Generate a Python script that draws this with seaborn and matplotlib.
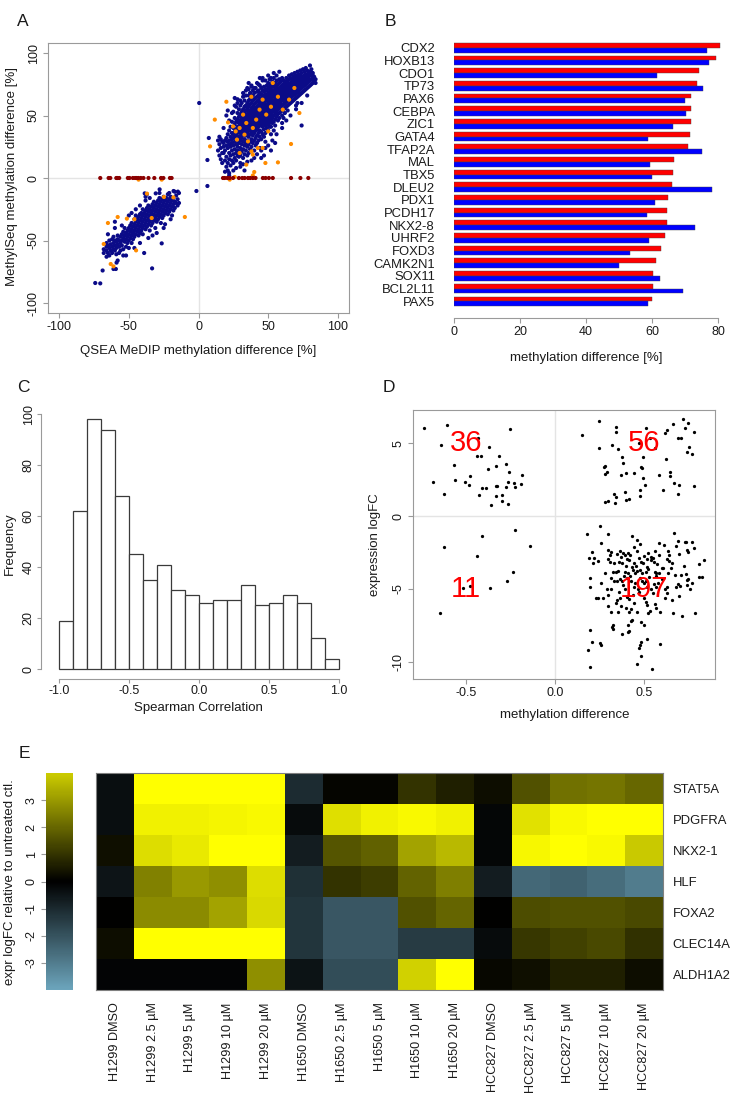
import numpy as np
import pandas as pd
import matplotlib
matplotlib.use("Agg")
import matplotlib.pyplot as plt
import seaborn as sns
from matplotlib.colors import LinearSegmentedColormap

sns.set_style("white")
plt.rcParams['font.family'] = ['Liberation Sans', 'DejaVu Sans']
plt.rcParams['axes.unicode_minus'] = False

# ---------------- Panel A data (QSEA vs MethylSeq methylation difference) ----------------
# upper-right cloud: x value -> list of y values
a_up_x = [14, 15, 16, 17, 18, 19, 20, 21, 22, 23, 24, 25, 26, 27, 28, 29, 30, 31, 32, 33, 34, 35,
          36, 37, 38, 39, 40, 41, 42, 43, 44, 45, 46, 47, 48, 49, 50, 51, 52, 53, 54, 55, 56, 57,
          58, 59, 60, 61, 62, 63, 64, 65, 66, 67, 68, 69, 70, 71, 72, 73, 74, 75, 76, 77, 78, 79,
          80, 81, 82, 83, 84]
a_up_y = [
    [30, 22], [27, 18, 33], [24, 31, 15], [29, 20, 12], [28, 25, 20], [30, 14, 22], [32, 26, 17, 9],
    [35, 24, 12, 29, 6, 54], [38, 30, 20, 15, 27, 4], [33, 25, 18, 41, 10], [36, 28, 22, 14, 45, 31],
    [40, 32, 26, 19, 12, 53, 35], [43, 37, 29, 23, 16, 48, 33], [45, 39, 34, 27, 20, 14, 57, 30],
    [47, 41, 36, 31, 25, 18, 63, 52, 22], [49, 44, 38, 33, 28, 21, 55, 40, 17],
    [51, 46, 41, 36, 30, 24, 18, 58, 43, 33, 12], [53, 48, 43, 38, 32, 27, 21, 60, 45, 35],
    [55, 50, 45, 40, 35, 29, 23, 16, 65, 47, 37], [57, 52, 47, 42, 37, 31, 26, 19, 62, 44, 34, 50],
    [58, 54, 49, 44, 39, 34, 28, 22, 70, 46, 36, 41], [60, 56, 51, 46, 41, 36, 30, 25, 18, 72, 48, 38, 54],
    [62, 57, 53, 48, 43, 38, 33, 27, 20, 66, 50, 40, 45], [63, 59, 54, 50, 45, 40, 35, 29, 23, 68, 47, 42, 52],
    [65, 60, 56, 51, 47, 42, 37, 31, 25, 74, 49, 44, 54, 39], [66, 62, 57, 53, 48, 44, 39, 34, 28, 70, 51, 46, 36],
    [68, 63, 59, 54, 50, 45, 41, 36, 30, 22, 56, 48, 43, 38], [64, 60, 56, 51, 47, 42, 38, 32, 26, 72, 53, 45, 40],
    [69, 65, 61, 57, 52, 48, 44, 39, 34, 28, 55, 50, 46], [70, 66, 62, 58, 54, 50, 45, 41, 36, 30, 75, 56, 47],
    [68, 64, 60, 55, 51, 47, 43, 38, 33, 24, 58, 49, 44], [72, 67, 63, 59, 55, 51, 47, 42, 37, 31, 61, 53, 45],
    [70, 66, 62, 58, 54, 50, 46, 41, 35, 78, 56, 48, 43], [73, 69, 65, 61, 57, 53, 49, 44, 39, 33, 59, 51, 47],
    [71, 67, 63, 59, 55, 51, 47, 42, 36, 62, 54, 45, 29], [74, 70, 66, 62, 58, 54, 50, 45, 40, 64, 56, 48, 43],
    [76, 72, 68, 64, 60, 56, 52, 48, 43, 38, 66, 58, 50, 46], [73, 69, 65, 61, 57, 53, 49, 44, 79, 63, 55, 47, 41],
    [75, 71, 67, 63, 59, 55, 51, 46, 41, 68, 60, 53, 35], [77, 73, 69, 65, 61, 57, 53, 48, 44, 62, 58, 50],
    [74, 70, 66, 62, 58, 54, 50, 45, 80, 68, 60, 56, 38], [76, 72, 68, 64, 60, 56, 52, 47, 42, 70, 62, 58],
    [78, 74, 70, 66, 62, 58, 54, 49, 72, 64, 60, 52], [75, 71, 67, 63, 59, 55, 51, 46, 69, 65, 61, 57],
    [79, 76, 72, 68, 64, 60, 56, 52, 48, 70, 66, 62], [77, 73, 69, 65, 61, 57, 53, 71, 67, 63, 59],
    [80, 74, 70, 66, 62, 58, 54, 50, 72, 68, 64, 44], [78, 75, 71, 67, 63, 59, 55, 73, 69, 65],
    [76, 72, 68, 64, 60, 56, 52, 74, 70, 66, 62], [80, 77, 73, 69, 65, 61, 57, 75, 71, 67],
    [78, 74, 70, 66, 62, 58, 54, 76, 72, 68, 64], [82, 79, 75, 71, 67, 63, 59, 73, 69, 65],
    [80, 76, 72, 68, 64, 60, 74, 70, 66], [83, 77, 73, 69, 65, 61, 75, 71, 67, 79],
    [81, 78, 74, 70, 66, 62, 76, 72, 68], [84, 79, 75, 71, 67, 63, 77, 73, 69],
    [82, 80, 76, 72, 68, 64, 78, 74, 70, 58], [85, 81, 77, 73, 69, 65, 79, 75, 71],
    [83, 78, 74, 70, 66, 80, 76, 72, 68], [86, 82, 79, 75, 71, 67, 77, 73], [84, 80, 76, 72, 68, 78, 74, 42],
    [87, 81, 77, 73, 69, 79, 75], [85, 82, 78, 74, 70, 80, 76], [88, 83, 79, 75, 71, 81, 77],
    [86, 80, 76, 72, 82, 78], [84, 81, 77, 73, 79], [90, 85, 82, 78, 74], [87, 83, 79, 75],
    [84, 80, 76, 82], [81, 77, 78], [79, 76]]

# lower-left cloud
a_lo_x = [-68, -66, -65, -64, -63, -62, -61, -60, -59, -58, -57, -56, -55, -54, -53, -52, -51, -50,
          -49, -48, -47, -46, -45, -44, -43, -42, -41, -40, -39, -38, -37, -36, -35, -34, -33, -32,
          -31, -30, -29, -28, -27, -26, -25, -24, -23, -22, -21, -20, -19, -18, -17, -16, -15, -14]
a_lo_y = [
    [-57, -60], [-55, -58, -52], [-60, -54], [-56, -50, -62], [-53, -58], [-55, -49, -60],
    [-52, -57, -47], [-54, -58, -50, -40], [-51, -56, -61], [-49, -53, -46], [-55, -50, -60],
    [-47, -52, -58], [-45, -50, -54], [-48, -43, -57, -62], [-46, -51, -40], [-44, -49, -55],
    [-42, -47, -52], [-45, -40, -50, -56], [-43, -38, -48], [-41, -46, -36, -52], [-39, -44, -49],
    [-37, -42, -33, -47], [-40, -35, -45, -30], [-38, -43, -33], [-36, -41, -31, -46],
    [-34, -39, -29, -44], [-32, -37, -42, -28], [-35, -30, -40, -25, -45], [-33, -28, -38, -60],
    [-31, -36, -26, -41, -15], [-29, -34, -24, -39, -13], [-32, -27, -37, -22], [-30, -25, -35, -42],
    [-28, -33, -23, -38], [-26, -31, -21, -36, -46], [-29, -24, -34, -19], [-27, -22, -32, -40],
    [-25, -20, -30, -35], [-23, -28, -18, -33], [-26, -21, -31, -16], [-24, -19, -29, -36],
    [-22, -27, -17, -32], [-20, -25, -30, -15], [-23, -18, -28, -37], [-21, -26, -16],
    [-19, -24, -29], [-17, -22, -12, -27], [-20, -25, -15], [-18, -23, -30], [-16, -21, -26],
    [-19, -24, -11], [-14, -20], [-22, -17], [-12, -20]]

# isolated navy points (outliers and the diffuse edges of both clouds)
a_out_x = [-74.1, -70.5, -68.8, -61.0, -59.3, -58.8, -33.3, -26.4, -1.5, 6.4, -38.6, -30.7, -27.9,
           -17.9, -14.8, 7.4, 6.4, 0.5,
           20, 22, 24, 26, 28, 30, 32, 34, 36, 38, 40, 42, 44, 46, 48, 50, 52, 54, 56, 58,
           22, 25, 27, 30, 32, 35, 38, 40, 42, 45, 48, 50, 53, 56, 60, 63, 66, 70, 74, 78,
           26, 36, 44, 18, 19, 33, 45, 52, 61, 71, 55, 47,
           -60, -55, -50, -45, -42, -38, -65, -66, -58, -52, -46, -42, -36, -30, -25, -20, -48, -35,
           -28, -22]
a_out_y = [-84.0, -84.3, -74.0, -72.8, -72.8, -67.7, -72.3, -52.3, -10.4, -6.4, -12.3, -12.3, -9.1,
           -10.4, -10.9, 32.0, 14.4, 60.0,
           50, 46, 52, 58, 60, 62, 68, 66, 71, 73, 72, 76, 74, 80, 78, 82, 80, 84, 82, 85,
           2, 6, 8, 9, 11, 13, 14, 16, 19, 22, 24, 26, 30, 35, 40, 46, 50, 55, 60, 66,
           64, 76, 80, 40, 5, 6, 16, 22, 48, 60, 28, 18,
           -35, -38, -30, -25, -22, -18, -45, -63, -66, -62, -56, -52, -48, -44, -40, -33, -28, -16,
           -12, -13]

# orange points
a_or_x = [11.7, 8.3, 20.0, 21.2, 26.7, 27.6, 29.5, 34.3, 33.0, 39.0, 41.4, 43.8, 46.0, 37.9, 48.6,
          52.0, 57.0, 60.5, 65.0, 68.8, 72.4, 66.4, 57.0, 48.0, 34.3, 39.0, 40.0, 39.0, 42.6, 35.5,
          29.5, 22.4, 26.0, 53.3, 46.0, 32.0, 38.0, 50.0, 24.8,
          -65.0, -58.0, -68.0, -44.8, -63.0, -61.0, -51.4, -37.0, -24.8, -9.8, -43.0, -26.4, -46.0,
          -33.6, -18.0]
a_or_y = [46.7, 25.3, 61.0, 44.5, 37.3, 30.7, 40.0, 44.0, 34.7, 40.0, 46.7, 54.7, 62.7, 65.0, 50.7,
          57.0, 65.0, 54.7, 62.7, 72.0, 52.0, 27.2, 12.5, 12.0, 10.7, 18.7, 4.8, 2.0, 24.0, 29.3,
          20.0, -1.3, 0.8, 76.0, 24.0, 50.7, 21.3, 37.3, 41.3,
          -36.0, -31.2, -52.8, -57.9, -68.8, -70.7, -32.5, -12.5, -15.2, -31.2, -1.3, -1.3, -33.0,
          -32.0, -15.5]

# dark red points (no MethylSeq difference)
a_zero_x = [-70.5, -64.5, -63.3, -59.0, -58.1, -56.9, -50.7, -49.5, -47.1, -45.5, -44.3, -43.1,
            -41.4, -39.5, -35.9, -31.7, -26.9, -25.2, -20.5, -19.3,
            17.6, 18.8, 20.7, 22.4, 24.8, 29.0, 31.4, 33.1, 35.5, 37.1, 39.0, 40.9, 46.2, 48.1,
            50.5, 53.3, 66.4, 73.1, 78.8]

# ---------------- Panel B data ----------------
genes_b = ["CDX2", "HOXB13", "CDO1", "TP73", "PAX6", "CEBPA", "ZIC1", "GATA4", "TFAP2A", "MAL",
           "TBX5", "DLEU2", "PDX1", "PCDH17", "NKX2-8", "UHRF2", "FOXD3", "CAMK2N1", "SOX11",
           "BCL2L11", "PAX5"]
red_vals = [80.5, 79.3, 74.2, 73.7, 71.9, 71.9, 71.7, 71.6, 70.8, 66.8, 66.2, 66.0, 64.7, 64.6,
            64.4, 64.0, 62.7, 61.3, 60.4, 60.2, 59.9]
blue_vals = [76.8, 77.4, 61.6, 75.3, 69.9, 70.4, 66.3, 58.9, 75.2, 59.5, 59.9, 78.1, 60.9, 58.5,
             73.0, 59.1, 53.3, 49.9, 62.5, 69.5, 58.9]

# ---------------- Panel C data ----------------
hist_edges = [-1.0, -0.9, -0.8, -0.7, -0.6, -0.5, -0.4, -0.3, -0.2, -0.1, 0.0, 0.1, 0.2, 0.3, 0.4,
              0.5, 0.6, 0.7, 0.8, 0.9, 1.0]
hist_counts = [19, 62, 98, 94, 68, 45, 35, 41, 31, 29, 26, 27, 27, 33, 25, 26, 29, 26, 12, 4]

# ---------------- Panel D data ----------------
d_ul = [(-0.737, 6.05), (-0.611, 6.3), (-0.252, 5.99), (-0.643, 4.9), (-0.434, 5.4), (-0.37, 4.77),
        (-0.437, 4.17), (-0.418, 4.15), (-0.316, 4.15), (-0.57, 3.51), (-0.333, 3.44), (-0.278, 3.6),
        (-0.378, 3.23), (-0.26, 3.03), (-0.479, 2.77), (-0.184, 2.82), (-0.686, 2.36), (-0.564, 2.49),
        (-0.508, 2.33), (-0.483, 2.15), (-0.263, 2.38), (-0.229, 2.31), (-0.192, 2.22), (-0.414, 1.95),
        (-0.387, 1.93), (-0.334, 2.1), (-0.327, 2.04), (-0.278, 1.99), (-0.226, 2.0), (-0.628, 1.49),
        (-0.43, 1.47), (-0.33, 1.36), (-0.299, 1.47), (-0.299, 1.03), (-0.361, 0.78), (-0.268, 0.81)]
d_ur = [(0.152, 5.57), (0.245, 6.51), (0.344, 6.15), (0.344, 5.82), (0.511, 6.03), (0.245, 4.72),
        (0.32, 4.91), (0.355, 4.59), (0.378, 4.06), (0.384, 3.65), (0.276, 3.39), (0.282, 3.46),
        (0.29, 3.03), (0.282, 2.92), (0.372, 2.82), (0.399, 2.96), (0.442, 2.96), (0.482, 3.41),
        (0.489, 3.32), (0.496, 4.1), (0.496, 2.61), (0.504, 2.15), (0.476, 1.81), (0.478, 1.37),
        (0.333, 1.51), (0.341, 1.33), (0.397, 1.1), (0.416, 1.21), (0.393, 1.65), (0.279, 0.94),
        (0.295, 1.05), (0.338, 0.87), (0.62, 5.69), (0.628, 5.94), (0.666, 6.35), (0.722, 6.7),
        (0.75, 6.44), (0.731, 6.05), (0.782, 5.78), (0.69, 5.37), (0.707, 5.37), (0.754, 4.77),
        (0.741, 4.4), (0.769, 4.27), (0.624, 3.92), (0.583, 2.84), (0.645, 3.03), (0.647, 2.73),
        (0.671, 2.25), (0.698, 2.13), (0.609, 1.83), (0.694, 1.51), (0.781, 2.06), (0.534, 5.37),
        (0.47, 5.0), (0.56, 4.7)]
d_ll = [(-0.626, -2.13), (-0.412, -1.38), (-0.226, -0.94), (-0.144, -2.02), (-0.438, -2.73),
        (-0.237, -3.83), (-0.272, -4.47), (-0.367, -4.91), (-0.477, -4.8), (-0.65, -6.66),
        (-0.52, -4.95)]
d_lr = [(0.252, -0.71), (0.179, -1.22), (0.295, -1.24), (0.431, -1.36), (0.668, -1.13), (0.462, -1.63),
        (0.259, -1.82), (0.587, -1.84), (0.613, -1.99), (0.694, -1.7), (0.735, -1.75), (0.772, -1.75),
        (0.683, -2.04), (0.444, -2.09), (0.299, -2.34), (0.314, -2.5), (0.205, -2.5), (0.363, -2.43),
        (0.384, -2.54), (0.395, -2.66), (0.412, -2.54), (0.459, -2.37), (0.502, -2.71), (0.524, -2.54),
        (0.54, -2.78), (0.562, -2.43), (0.587, -2.64), (0.634, -2.39), (0.743, -2.34), (0.748, -2.48),
        (0.188, -2.89), (0.243, -3.07), (0.211, -3.24), (0.299, -2.96), (0.31, -3.12), (0.361, -3.14),
        (0.374, -3.24), (0.403, -2.96), (0.414, -3.05), (0.446, -3.24), (0.457, -3.4), (0.482, -3.14),
        (0.493, -3.24), (0.516, -2.96), (0.538, -3.05), (0.555, -3.14), (0.572, -3.28), (0.628, -2.96),
        (0.64, -3.07), (0.809, -3.28), (0.84, -3.05), (0.726, -3.42), (0.602, -3.58), (0.325, -3.81),
        (0.341, -3.81), (0.352, -3.77), (0.393, -3.81), (0.41, -3.88), (0.438, -3.7), (0.459, -3.79),
        (0.478, -3.7), (0.513, -3.84), (0.525, -3.65), (0.562, -3.81), (0.583, -3.93), (0.634, -3.93),
        (0.651, -3.58), (0.675, -4.06), (0.711, -4.04), (0.735, -3.97), (0.812, -4.2), (0.829, -4.2),
        (0.197, -4.25), (0.316, -4.27), (0.331, -4.43), (0.35, -4.45), (0.365, -4.34), (0.378, -4.48),
        (0.406, -4.27), (0.425, -4.45), (0.478, -4.27), (0.49, -4.48), (0.511, -4.43), (0.743, -4.39),
        (0.748, -4.3), (0.692, -4.66), (0.702, -4.82), (0.741, -4.75), (0.197, -4.84), (0.316, -5.03),
        (0.382, -4.75), (0.395, -5.03), (0.446, -4.89), (0.465, -5.0), (0.557, -4.66), (0.566, -4.89),
        (0.62, -5.0), (0.628, -4.89), (0.628, -5.3), (0.23, -5.64), (0.271, -5.64), (0.299, -5.41),
        (0.348, -5.76), (0.363, -5.62), (0.403, -5.53), (0.414, -5.69), (0.446, -5.99), (0.297, -6.17),
        (0.37, -6.17), (0.519, -6.08), (0.562, -6.04), (0.566, -6.29), (0.314, -6.57), (0.355, -6.61),
        (0.416, -6.59), (0.427, -6.4), (0.525, -6.63), (0.536, -6.52), (0.59, -6.61), (0.662, -6.68),
        (0.715, -6.88), (0.79, -6.63), (0.426, -7.19), (0.434, -7.14), (0.483, -7.25), (0.5, -7.46),
        (0.324, -7.48), (0.408, -7.48), (0.328, -7.76), (0.322, -7.6), (0.408, -7.94), (0.417, -7.9),
        (0.374, -8.12), (0.197, -7.83), (0.519, -8.47), (0.483, -8.63), (0.478, -8.86), (0.473, -9.09),
        (0.59, -8.81), (0.252, -8.74), (0.258, -8.86), (0.205, -8.67), (0.184, -9.22), (0.485, -9.59),
        (0.461, -10.19), (0.197, -10.35), (0.547, -10.51),
        (0.42, -4.1), (0.45, -4.6), (0.47, -5.2), (0.52, -4.9), (0.55, -5.3), (0.58, -4.6), (0.44, -5.4),
        (0.5, -5.6), (0.53, -4.2), (0.6, -4.3), (0.36, -5.2), (0.39, -4.1), (0.43, -3.5), (0.47, -2.9),
        (0.52, -3.5), (0.57, -3.9), (0.61, -3.6), (0.66, -3.2), (0.7, -2.6), (0.68, -4.9), (0.77, -4.6),
        (0.78, -2.2), (0.73, -1.8), (0.64, -2.7), (0.35, -2.6), (0.33, -3.2), (0.28, -3.9), (0.26, -4.6),
        (0.24, -5.6), (0.22, -2.9), (0.29, -5.0), (0.34, -6.0), (0.4, -6.3), (0.46, -6.6), (0.51, -5.9),
        (0.54, -5.0), (0.57, -4.1), (0.49, -3.9), (0.4, -3.4), (0.37, -2.8), (0.31, -2.7), (0.62, -5.6),
        (0.66, -5.8), (0.7, -5.5), (0.76, -5.0), (0.55, -2.9), (0.48, -1.9), (0.42, -2.7), (0.5, -4.6),
        (0.45, -3.9)]
d_counts = ["36", "56", "11", "197"]
d_count_pos = [(-0.5, 5), (0.5, 5), (-0.5, -5), (0.5, -5)]

# ---------------- Panel E data ----------------
e_columns = ["H1299 DMSO", "H1299 2.5 µM", "H1299 5 µM", "H1299 10 µM", "H1299 20 µM",
             "H1650 DMSO", "H1650 2.5 µM", "H1650 5 µM", "H1650 10 µM", "H1650 20 µM",
             "HCC827 DMSO", "HCC827 2.5 µM", "HCC827 5 µM", "HCC827 10 µM", "HCC827 20 µM"]
e_genes = ["STAT5A", "PDGFRA", "NKX2-1", "HLF", "FOXA2", "CLEC14A", "ALDH1A2"]
stat5a = [-0.32, 5, 5, 5, 5, -1.02, 0.1, 0.1, 1.0, 0.59, 0.24, 1.6, 2.2, 2.27, 2.0]
pdgfra = [-0.32, 4.7, 4.7, 4.78, 4.86, -0.24, 4.35, 4.7, 4.86, 4.7, -0.15, 4.4, 4.86, 5, 5]
nkx2_1 = [0.29, 4.31, 4.55, 5, 5, -0.68, 1.65, 1.88, 3.18, 3.6, -0.15, 4.82, 5, 4.86, 3.92]
hlf = [-0.49, 2.5, 3.0, 2.78, 4.31, -1.17, 0.98, 1.2, 1.92, 2.47, -0.68, -2.52, -2.38, -2.62, -3.0]
foxa2 = [0.0, 2.7, 2.7, 3.2, 4.24, -1.26, -2.09, -2.09, 1.57, 1.96, 0.0, 1.49, 1.6, 1.6, 1.41]
clec14a = [0.27, 5, 5, 5, 5, -1.26, -2.09, -2.09, -1.41, -1.41, -0.24, 1.06, 1.25, 1.41, 0.94]
aldh1a2 = [-0.1, -0.1, -0.1, -0.1, 2.78, -0.44, -1.84, -1.84, 4.08, 5, 0.12, 0.31, 0.59, 0.59, 0.24]

# ======================================================================
W, H = 735, 1102
fig = plt.figure(figsize=(W / 100, H / 100), dpi=100)


def rect(l, t, r, b):
    return [l / W, 1 - b / H, (r - l) / W, (b - t) / H]


def ftext(x, y, s, **kw):
    fig.text(x / W, 1 - y / H, s, **kw)


GRAY = '#9a9a9a'
TXT = '#1a1a1a'
LAB = 9.5


def style_box(ax):
    for sp in ax.spines.values():
        sp.set_color(GRAY)
        sp.set_linewidth(0.8)
    ax.tick_params(direction='out', length=3.5, width=0.8, color=GRAY, labelsize=9,
                   labelcolor=TXT, pad=2.5, bottom=True, left=True)


def rotate_y(ax):
    for lbl in ax.get_yticklabels():
        lbl.set_rotation(90)
        lbl.set_va('center')


# ---------------- Panel A ----------------
ax_x, ax_y, grp = [], [], []
for xv, ys in zip(a_up_x, a_up_y):
    for yv in ys:
        ax_x.append(xv); ax_y.append(yv); grp.append('navy')
for xv, ys in zip(a_lo_x, a_lo_y):
    for yv in ys:
        ax_x.append(xv); ax_y.append(yv); grp.append('navy')
ax_x += a_out_x; ax_y += a_out_y; grp += ['navy'] * len(a_out_x)
ax_x += a_or_x; ax_y += a_or_y; grp += ['orange'] * len(a_or_x)
ax_x += a_zero_x; ax_y += [0] * len(a_zero_x); grp += ['darkred'] * len(a_zero_x)
dfA = pd.DataFrame({'qsea': ax_x, 'methylseq': ax_y, 'group': grp})

axA = fig.add_axes(rect(48, 43, 349, 313))
axA.axhline(0, color='#e4e4e4', lw=1.0, zorder=0)
axA.axvline(0, color='#e4e4e4', lw=1.0, zorder=0)
sns.scatterplot(data=dfA, x='qsea', y='methylseq', hue='group',
                palette={'navy': '#0b0b88', 'orange': '#ff8c00', 'darkred': '#8b0000'},
                s=9, linewidth=0, legend=False, ax=axA, zorder=2)
axA.set_xlim(-108, 108)
axA.set_ylim(-108, 108)
axA.set_xticks([-100, -50, 0, 50, 100])
axA.set_yticks([-100, -50, 0, 50, 100])
axA.set_xlabel('')
axA.set_ylabel('')
style_box(axA)
rotate_y(axA)
ftext(198, 351, 'QSEA MeDIP methylation difference [%]', ha='center', va='center', fontsize=LAB, color=TXT)
ftext(12, 177, 'MethylSeq methylation difference [%]', ha='center', va='center', fontsize=LAB,
      color=TXT, rotation=90)

# ---------------- Panel B ----------------
dfB = pd.DataFrame({'gene': genes_b * 2, 'value': red_vals + blue_vals,
                    'series': ['MethylSeq'] * len(genes_b) + ['MeDIP'] * len(genes_b)})
axB = fig.add_axes(rect(454, 41.4, 724, 307.7))
sns.barplot(data=dfB, y='gene', x='value', hue='series', order=genes_b,
            hue_order=['MethylSeq', 'MeDIP'], palette=['#ff0000', '#0000ff'], orient='h',
            width=0.76, saturation=1, errorbar=None, edgecolor='#444444', linewidth=0.3,
            legend=False, ax=axB)
axB.set_xlim(0, 81.8)
axB.set_ylim(20.5, -0.5)
axB.set_xlabel('')
axB.set_ylabel('')
for s in ['top', 'right', 'left']:
    axB.spines[s].set_visible(False)
axB.spines['bottom'].set_position(('outward', 7.4))
axB.spines['bottom'].set_bounds(0, 80)
axB.spines['bottom'].set_color(GRAY)
axB.spines['bottom'].set_linewidth(0.8)
axB.set_xticks([0, 20, 40, 60, 80])
axB.tick_params(axis='x', direction='out', length=3.5, width=0.8, color=GRAY, labelsize=9,
                labelcolor=TXT, pad=2.5, bottom=True)
axB.tick_params(axis='y', length=0, pad=13.7, labelsize=9.4, labelcolor=TXT)
ftext(586, 358, 'methylation difference [%]', ha='center', va='center', fontsize=LAB, color=TXT)

# ---------------- Panel C ----------------
centers = [(a + b) / 2 for a, b in zip(hist_edges[:-1], hist_edges[1:])]
axC = fig.add_axes(rect(47.8, 409.5, 350.2, 679))
sns.histplot(x=centers, weights=hist_counts, bins=hist_edges, color='white', alpha=1,
             edgecolor='#3a3a3a', linewidth=0.9, ax=axC)
axC.set_xlim(-1.08, 1.08)
axC.set_ylim(-3.92, 101.9)
axC.set_xlabel('')
axC.set_ylabel('')
for s in ['top', 'right']:
    axC.spines[s].set_visible(False)
axC.spines['left'].set_position(('outward', 5))
axC.spines['left'].set_bounds(0, 100)
axC.spines['bottom'].set_bounds(-1, 1)
for s in ['left', 'bottom']:
    axC.spines[s].set_color(GRAY)
    axC.spines[s].set_linewidth(0.8)
axC.set_xticks([-1.0, -0.5, 0.0, 0.5, 1.0])
axC.set_xticklabels(['-1.0', '-0.5', '0.0', '0.5', '1.0'])
axC.set_yticks([0, 20, 40, 60, 80, 100])
axC.tick_params(direction='out', length=3, width=0.8, color=GRAY, labelsize=9, labelcolor=TXT,
                pad=1.5, bottom=True, left=True)
rotate_y(axC)
ftext(198, 708, 'Spearman Correlation', ha='center', va='center', fontsize=LAB, color=TXT)
ftext(10, 544, 'Frequency', ha='center', va='center', fontsize=LAB, color=TXT, rotation=90)

# ---------------- Panel D ----------------
d_pts = d_ul + d_ur + d_ll + d_lr
dfD = pd.DataFrame({'meth': [p[0] for p in d_pts], 'expr': [p[1] for p in d_pts]})
axD = fig.add_axes(rect(413, 410, 715, 679))
axD.axhline(0, color='#e4e4e4', lw=1.0, zorder=0)
axD.axvline(0, color='#e4e4e4', lw=1.0, zorder=0)
sns.scatterplot(data=dfD, x='meth', y='expr', color='black', s=5.5, linewidth=0, ax=axD, zorder=2)
for lab, (px, py) in zip(d_counts, d_count_pos):
    axD.text(px, py, lab, color='#ff0000', fontsize=21, ha='center', va='center', zorder=3)
axD.set_xlim(-0.80, 0.90)
axD.set_ylim(-11.2, 7.3)
axD.set_xticks([-0.5, 0.0, 0.5])
axD.set_xticklabels(['-0.5', '0.0', '0.5'])
axD.set_yticks([-10, -5, 0, 5])
axD.set_xlabel('')
axD.set_ylabel('')
style_box(axD)
rotate_y(axD)
ftext(564.5, 715, 'methylation difference', ha='center', va='center', fontsize=LAB, color=TXT)
ftext(375, 545, 'expression logFC', ha='center', va='center', fontsize=LAB, color=TXT, rotation=90)

# ---------------- Panel E ----------------
dfE = pd.DataFrame([stat5a, pdgfra, nkx2_1, hlf, foxa2, clec14a, aldh1a2],
                   index=e_genes, columns=e_columns)
cmap = LinearSegmentedColormap.from_list('by', [(0.0, '#87ceeb'), (0.5, '#000000'), (1.0, '#ffff00')])
axE = fig.add_axes(rect(96, 773, 663, 990))
cax = fig.add_axes(rect(46, 773, 73, 990))
sns.heatmap(dfE, cmap=cmap, vmin=-5, vmax=5, ax=axE, cbar_ax=cax, xticklabels=True,
            yticklabels=True)
for sp in axE.spines.values():
    sp.set_visible(True)
    sp.set_color('#808080')
    sp.set_linewidth(0.8)
axE.yaxis.tick_right()
axE.tick_params(axis='y', length=0, pad=7, labelsize=9.4, labelrotation=0, labelcolor=TXT)
axE.tick_params(axis='x', length=0, pad=9, labelsize=9.1, labelrotation=90, labelcolor=TXT)
for lbl in axE.get_yticklabels():
    lbl.set_ha('left')
axE.set_xlabel('')
axE.set_ylabel('')

cbar = axE.collections[0].colorbar
cbar.outline.set_visible(False)
cax.set_ylim(-4, 4)
cax.yaxis.set_ticks_position('left')
cax.set_yticks([-3, -2, -1, 0, 1, 2, 3])
cax.tick_params(axis='y', direction='out', length=3.5, width=0.8, color=GRAY, labelsize=9,
                labelcolor=TXT, pad=2.5)
rotate_y(cax)
ftext(10, 882, 'expr logFC relative to untreated ctl.', ha='center', va='center', fontsize=LAB,
      color=TXT, rotation=90)

# ---------------- Panel letters ----------------
for letter, (px, py) in zip("ABCDE", [(17, 21), (385, 21), (17, 387), (383, 387), (19, 754)]):
    ftext(px, py, letter, ha='left', va='center', fontsize=12.5, color=TXT)

fig.savefig('out.png', dpi=100)
